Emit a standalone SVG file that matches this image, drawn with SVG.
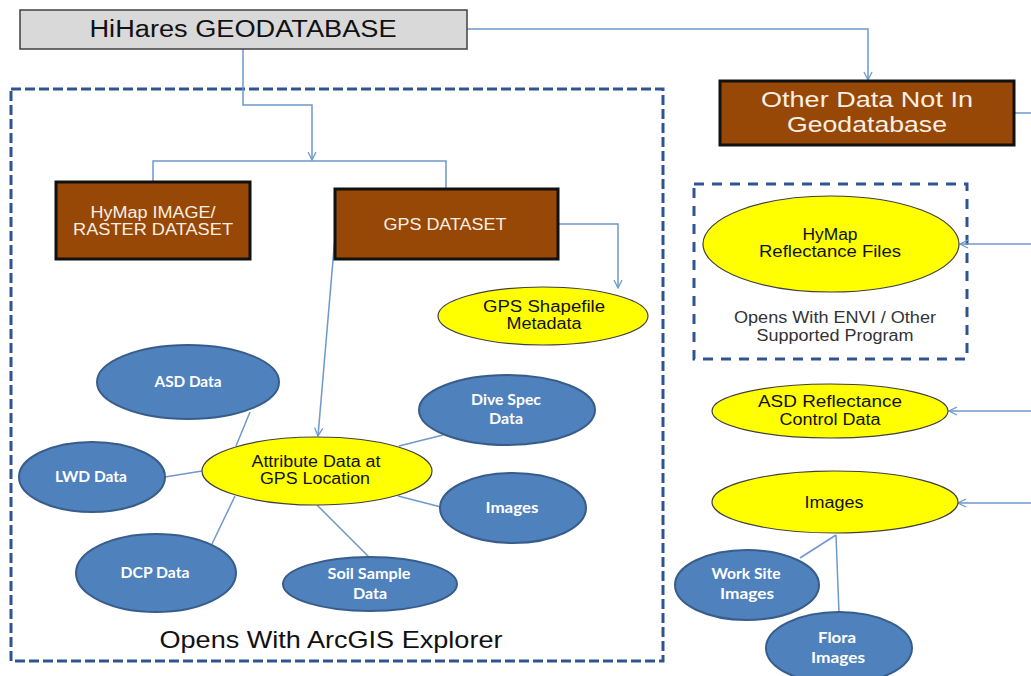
<svg xmlns="http://www.w3.org/2000/svg" width="1031" height="676" viewBox="0 0 1031 676">
  <style>
    .bg { fill: #ffffff; }
    .frame { fill: none; stroke: #2f5490; stroke-width: 3; }
    .frame-a { stroke-dasharray: 10 4; }
    .frame-b { stroke-dasharray: 10 8; }
    .title-box { fill: #d9d9d9; stroke: #404040; stroke-width: 1.5; }
    .brown { fill: #974706; stroke: #111111; stroke-width: 3; }
    .yellow { fill: #ffff00; stroke: #404040; stroke-width: 1.2; }
    .blue { fill: #4f81bd; stroke: #385d8a; stroke-width: 2; }
    .conn { fill: none; stroke: #6f98cc; stroke-width: 1.5; }
    .arrow { marker-end: url(#open-arrow); }
    .t-dark { font-family: "Liberation Sans", Arial, sans-serif; fill: #111111; text-anchor: middle; }
    .t-light { font-family: "Liberation Sans", Arial, sans-serif; fill: #f7efe4; text-anchor: middle; }
    .t-blue { font-family: Lato, "Open Sans", sans-serif; font-weight: bold; fill: #ffffff; text-anchor: middle; font-size: 15px; }
    .t-note { font-family: "Liberation Sans", Arial, sans-serif; fill: #333333; text-anchor: middle; font-size: 16px; }
  </style>
  <defs>
    <marker id="open-arrow" viewBox="0 0 10 10" refX="9" refY="5" markerWidth="10" markerHeight="10" markerUnits="userSpaceOnUse" orient="auto">
      <path d="M1,1 L9,5 L1,9" fill="none" stroke="#6f98cc" stroke-width="1.3"/>
    </marker>
  </defs>

  <rect class="bg" x="0" y="0" width="1031" height="676"/>

  <!-- dashed grouping frames -->
  <rect class="frame frame-a" x="11" y="89" width="652" height="572"/>
  <rect class="frame frame-b" x="694" y="184" width="273" height="175"/>

  <!-- connectors -->
  <g id="connectors">
    <polyline class="conn arrow" points="243,49 243,105 312,105 312,160"/>
    <polyline class="conn" points="153,182 153,161 446,161 446,189"/>
    <polyline class="conn arrow" points="467,29 868,29 868,80"/>
    <line class="conn" x1="1014" y1="113" x2="1031" y2="113"/>
    <polyline class="conn arrow" points="558,224 618,224 618,288"/>
    <line class="conn arrow" x1="336" y1="225" x2="318" y2="436"/>
    <line class="conn" x1="250" y1="412" x2="236" y2="446"/>
    <line class="conn" x1="165" y1="477" x2="202" y2="471"/>
    <line class="conn" x1="212" y1="544" x2="235" y2="496"/>
    <line class="conn" x1="369" y1="557" x2="317" y2="505"/>
    <line class="conn" x1="399" y1="446" x2="443" y2="435"/>
    <line class="conn" x1="398" y1="496" x2="441" y2="507"/>
    <line class="conn arrow" x1="1031" y1="244" x2="960" y2="244"/>
    <line class="conn arrow" x1="1031" y1="411" x2="949" y2="411"/>
    <line class="conn arrow" x1="1031" y1="503" x2="958" y2="503"/>
    <line class="conn" x1="836" y1="535" x2="800" y2="558"/>
    <line class="conn" x1="836" y1="535" x2="839" y2="613"/>
  </g>

  <g id="geodatabase">
    <rect class="title-box" x="20" y="10" width="447" height="39"/>
    <text class="t-dark" x="243" y="37" font-size="23" textLength="307" lengthAdjust="spacingAndGlyphs">HiHares GEODATABASE</text>
  </g>

  <g id="other-data">
    <rect class="brown" x="720" y="81" width="294" height="64"/>
    <text class="t-light" x="867" y="107" font-size="22" textLength="212" lengthAdjust="spacingAndGlyphs">Other Data Not In</text>
    <text class="t-light" x="867" y="132" font-size="22" textLength="160" lengthAdjust="spacingAndGlyphs">Geodatabase</text>
  </g>

  <g id="hymap-raster">
    <rect class="brown" x="56" y="182" width="194" height="77"/>
    <text class="t-light" x="153" y="218" font-size="16" textLength="125" lengthAdjust="spacingAndGlyphs">HyMap IMAGE/</text>
    <text class="t-light" x="153" y="235" font-size="16" textLength="160" lengthAdjust="spacingAndGlyphs">RASTER DATASET</text>
  </g>

  <g id="gps-dataset">
    <rect class="brown" x="335" y="189" width="223" height="70"/>
    <text class="t-light" x="445" y="230" font-size="16" textLength="123" lengthAdjust="spacingAndGlyphs">GPS DATASET</text>
  </g>

  <g id="gps-shapefile">
    <ellipse class="yellow" cx="543" cy="316" rx="105" ry="29"/>
    <text class="t-dark" x="544" y="312" font-size="16" textLength="122" lengthAdjust="spacingAndGlyphs">GPS Shapefile</text>
    <text class="t-dark" x="544" y="329" font-size="16" textLength="75" lengthAdjust="spacingAndGlyphs">Metadata</text>
  </g>

  <g id="attribute-data">
    <ellipse class="yellow" cx="317" cy="471" rx="115" ry="34"/>
    <text class="t-dark" x="316" y="467" font-size="16" textLength="129" lengthAdjust="spacingAndGlyphs">Attribute Data at</text>
    <text class="t-dark" x="315" y="484" font-size="16" textLength="110" lengthAdjust="spacingAndGlyphs">GPS Location</text>
  </g>

  <g id="asd-data">
    <ellipse class="blue" cx="188" cy="382" rx="91" ry="37"/>
    <text class="t-blue" x="188" y="387" textLength="67" lengthAdjust="spacingAndGlyphs">ASD Data</text>
  </g>

  <g id="lwd-data">
    <ellipse class="blue" cx="92" cy="477" rx="73" ry="35"/>
    <text class="t-blue" x="91" y="482" textLength="72" lengthAdjust="spacingAndGlyphs">LWD Data</text>
  </g>

  <g id="dcp-data">
    <ellipse class="blue" cx="156" cy="573" rx="80" ry="39"/>
    <text class="t-blue" x="155" y="578" textLength="69" lengthAdjust="spacingAndGlyphs">DCP Data</text>
  </g>

  <g id="soil-sample">
    <ellipse class="blue" cx="370" cy="584" rx="87" ry="27"/>
    <text class="t-blue" x="369" y="579" textLength="83" lengthAdjust="spacingAndGlyphs">Soil Sample</text>
    <text class="t-blue" x="370" y="599" textLength="34" lengthAdjust="spacingAndGlyphs">Data</text>
  </g>

  <g id="dive-spec">
    <ellipse class="blue" cx="507" cy="410" rx="88" ry="35"/>
    <text class="t-blue" x="506" y="405" textLength="70" lengthAdjust="spacingAndGlyphs">Dive Spec</text>
    <text class="t-blue" x="506" y="424" textLength="34" lengthAdjust="spacingAndGlyphs">Data</text>
  </g>

  <g id="images-gps">
    <ellipse class="blue" cx="513" cy="508" rx="73" ry="35"/>
    <text class="t-blue" x="512" y="513" textLength="53" lengthAdjust="spacingAndGlyphs">Images</text>
  </g>

  <text class="t-dark" x="331" y="648" font-size="24" textLength="343" lengthAdjust="spacingAndGlyphs">Opens With ArcGIS Explorer</text>

  <g id="hymap-reflectance">
    <ellipse class="yellow" cx="831" cy="244" rx="128" ry="48"/>
    <text class="t-dark" x="830" y="240" font-size="16" textLength="55" lengthAdjust="spacingAndGlyphs">HyMap</text>
    <text class="t-dark" x="830" y="257" font-size="16" textLength="142" lengthAdjust="spacingAndGlyphs">Reflectance Files</text>
  </g>

  <text class="t-note" x="835" y="323" textLength="202" lengthAdjust="spacingAndGlyphs">Opens With ENVI / Other</text>
  <text class="t-note" x="835" y="341" textLength="157" lengthAdjust="spacingAndGlyphs">Supported Program</text>

  <g id="asd-reflectance">
    <ellipse class="yellow" cx="830" cy="411" rx="118" ry="27"/>
    <text class="t-dark" x="830" y="407" font-size="16" textLength="144" lengthAdjust="spacingAndGlyphs">ASD Reflectance</text>
    <text class="t-dark" x="830" y="425" font-size="16" textLength="101" lengthAdjust="spacingAndGlyphs">Control Data</text>
  </g>

  <g id="images-other">
    <ellipse class="yellow" cx="835" cy="502" rx="123" ry="31"/>
    <text class="t-dark" x="834" y="508" font-size="16" textLength="59" lengthAdjust="spacingAndGlyphs">Images</text>
  </g>

  <g id="work-site-images">
    <ellipse class="blue" cx="747" cy="585" rx="72" ry="35"/>
    <text class="t-blue" x="746" y="579" textLength="69" lengthAdjust="spacingAndGlyphs">Work Site</text>
    <text class="t-blue" x="747" y="599" textLength="54" lengthAdjust="spacingAndGlyphs">Images</text>
  </g>

  <g id="flora-images">
    <ellipse class="blue" cx="839" cy="648" rx="73" ry="36"/>
    <text class="t-blue" x="837" y="643" textLength="38" lengthAdjust="spacingAndGlyphs">Flora</text>
    <text class="t-blue" x="838" y="663" textLength="54" lengthAdjust="spacingAndGlyphs">Images</text>
  </g>
</svg>
